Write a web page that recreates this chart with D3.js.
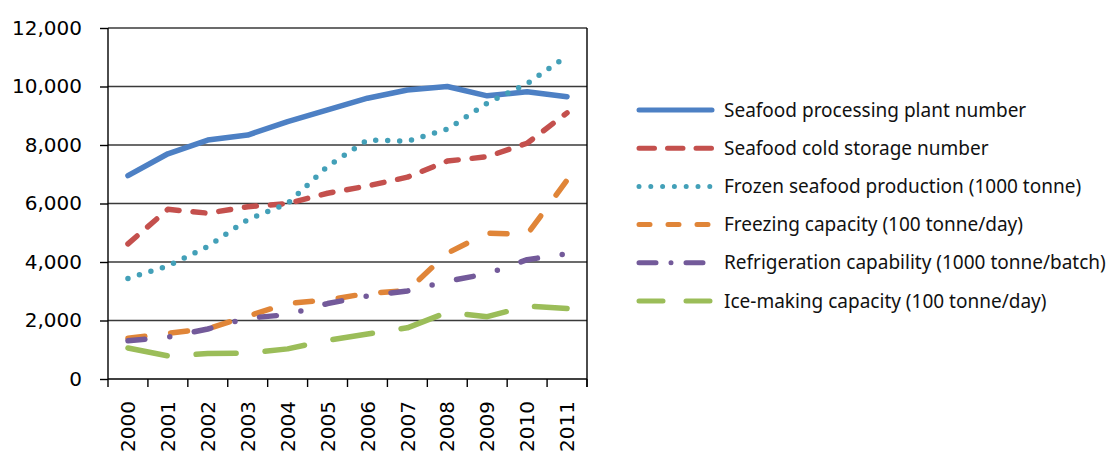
<!doctype html>
<html lang="en">
<head>
<meta charset="UTF-8">
<script src="https://d3js.org/d3.v7.min.js"></script>
<style>
body {
  margin: 0;
  background: #fff;
}
.axis text {
  font-family: "DejaVu Sans", sans-serif;
  font-size: 20px;
  fill: #000;
}
.grid line {
  stroke: #3a3a3a;
  stroke-width: 1.4px;
}
.series {
  fill: none;
  stroke-linejoin: round;
  stroke-linecap: round;
}
.legend text {
  font-family: "Noto Sans", sans-serif;
  font-size: 19px;
  fill: #111;
}
</style>
<title></title>
</head>
<body>
<div id="chart"></div>
<script>
'use strict';

var years = ["2000", "2001", "2002", "2003", "2004", "2005",
             "2006", "2007", "2008", "2009", "2010", "2011"];

var plants        = [6950, 7700, 8170, 8340, 8800, 9200, 9600, 9880, 10000, 9680, 9820, 9650];
var coldStorage   = [4620, 5800, 5670, 5890, 6000, 6350, 6600, 6900, 7450, 7600, 8060, 9100];
var frozenProd    = [3440, 3860, 4530, 5450, 6000, 7270, 8170, 8130, 8540, 9430, 10100, 11040];
var freezing      = [1390, 1560, 1720, 2150, 2580, 2700, 2930, 3020, 4300, 4990, 4940, 6800];
var refrigeration = [1310, 1430, 1710, 2080, 2200, 2580, 2840, 3010, 3340, 3600, 4080, 4280];
var iceMaking     = [1060, 790, 870, 880, 1030, 1320, 1540, 1750, 2280, 2130, 2490, 2410];

var seriesNames = [
  "Seafood processing plant number",
  "Seafood cold storage number",
  "Frozen seafood production (1000 tonne)",
  "Freezing capacity (100 tonne/day)",
  "Refrigeration capability (1000 tonne/batch)",
  "Ice-making capacity (100 tonne/day)"
];
var seriesValues = [plants, coldStorage, frozenProd, freezing, refrigeration, iceMaking];

var yTicks = [0, 2000, 4000, 6000, 8000, 10000, 12000];

// line styles (colour, width, dash in plot, dash in legend sample)
var styles = [
  {color: "#4d80c4", width: 5.5, dash: null,           ldash: null},
  {color: "#c4504d", width: 5.5, dash: "12,14",        ldash: "15.5,13"},
  {color: "#43a0b8", width: 5.5, dash: "0,12",         ldash: "0,11.8"},
  {color: "#e08538", width: 5.5, dash: "17,26",        ldash: "11,18"},
  {color: "#735a9a", width: 5.5, dash: "17,25,0,25",   ldash: "17,15,0,15"},
  {color: "#9bbd59", width: 5.5, dash: "40,29",        ldash: "24,23"}
];

var W = 1110, H = 453;
var plotL = 108, plotR = 587, plotT = 28, plotB = 379;

var svg = d3.select("#chart").append("svg")
  .attr("width", W)
  .attr("height", H);

var x = d3.scaleBand().domain(years).range([plotL, plotR]).padding(0);
var y = d3.scaleLinear().domain([0, 12000]).range([plotB, plotT]);

// gridlines
svg.append("g")
  .attr("class", "grid")
  .selectAll("line")
  .data(yTicks.slice(1))
  .enter().append("line")
  .attr("x1", plotL)
  .attr("x2", plotR)
  .attr("y1", function(d) { return y(d); })
  .attr("y2", function(d) { return y(d); });

// y axis
var yAxis = svg.append("g")
  .attr("class", "axis")
  .attr("transform", "translate(" + plotL + ",0)")
  .call(d3.axisLeft(y)
    .tickValues(yTicks)
    .tickSize(8)
    .tickPadding(18)
    .tickFormat(d3.format(",")));
yAxis.selectAll("line, path").attr("stroke", "#000").attr("stroke-width", 1.4);
yAxis.select(".domain").attr("d", "M0," + plotB + "V" + plotT);

// right frame line
svg.append("line")
  .attr("x1", plotR).attr("x2", plotR)
  .attr("y1", plotT).attr("y2", plotB + 8)
  .attr("stroke", "#000")
  .attr("stroke-width", 1.4);

// x axis: ticks on band edges, labels on band centres
var xAxis = svg.append("g").attr("class", "axis");
xAxis.append("line")
  .attr("x1", plotL).attr("x2", plotR)
  .attr("y1", plotB).attr("y2", plotB)
  .attr("stroke", "#000").attr("stroke-width", 1.4);
xAxis.selectAll(".xtick")
  .data(years.concat(["end"]))
  .enter().append("line")
  .attr("class", "xtick")
  .attr("x1", function(d) { return d === "end" ? plotR : x(d); })
  .attr("x2", function(d) { return d === "end" ? plotR : x(d); })
  .attr("y1", plotB)
  .attr("y2", plotB + 8)
  .attr("stroke", "#000").attr("stroke-width", 1.4);
xAxis.selectAll(".xlabel")
  .data(years)
  .enter().append("text")
  .attr("class", "xlabel")
  .attr("text-anchor", "end")
  .attr("dy", "0.36em")
  .attr("transform", function(d) {
    return "translate(" + (x(d) + x.bandwidth() / 2) + "," + (plotB + 22) + ") rotate(-90)";
  })
  .text(function(d) { return d; });

// series lines
var line = d3.line()
  .x(function(d, i) { return x(years[i]) + x.bandwidth() / 2; })
  .y(function(d) { return y(d); });

svg.selectAll(".series")
  .data(seriesValues)
  .enter().append("path")
  .attr("class", "series")
  .attr("d", line)
  .attr("stroke", function(d, i) { return styles[i].color; })
  .attr("stroke-width", function(d, i) { return styles[i].width; })
  .attr("stroke-dasharray", function(d, i) { return styles[i].dash; });

// legend
var legend = svg.append("g")
  .attr("class", "legend")
  .attr("transform", "translate(637,110)");

var item = legend.selectAll("g")
  .data(seriesNames)
  .enter().append("g")
  .attr("transform", function(d, i) { return "translate(0," + (i * 38.2) + ")"; });

item.append("line")
  .attr("x1", 2).attr("x2", 75)
  .attr("y1", 0).attr("y2", 0)
  .attr("fill", "none")
  .attr("stroke-linecap", "round")
  .attr("stroke", function(d, i) { return styles[i].color; })
  .attr("stroke-width", 5)
  .attr("stroke-dasharray", function(d, i) { return styles[i].ldash; });

item.append("text")
  .attr("x", 87)
  .attr("dy", "0.35em")
  .text(function(d) { return d; });
</script>
</body>
</html>
